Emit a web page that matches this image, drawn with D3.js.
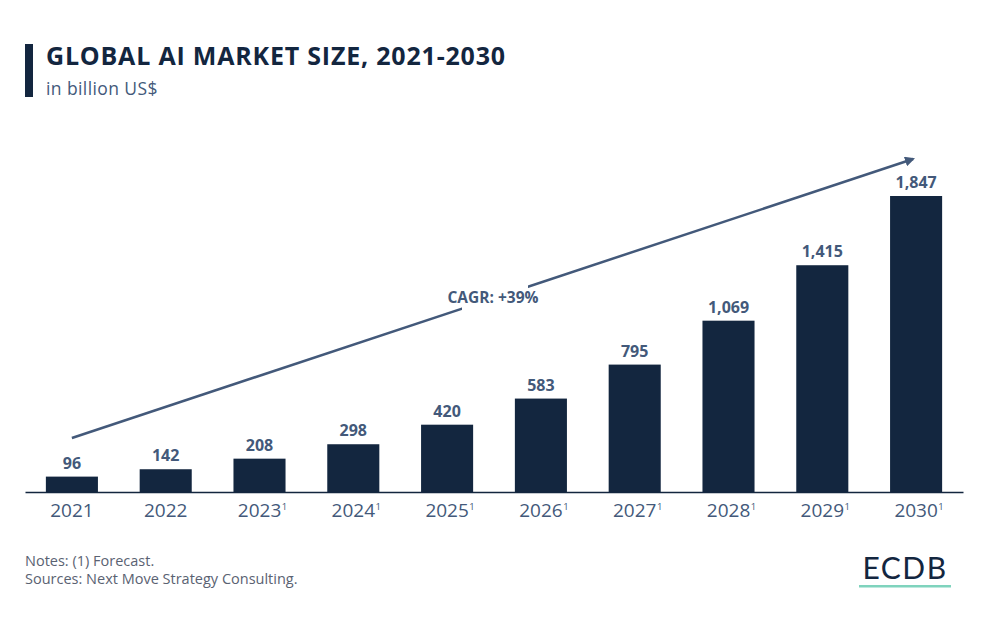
<!DOCTYPE html>
<html><head><meta charset="utf-8">
<script src="https://cdn.jsdelivr.net/npm/d3@7"></script>
<style>body{margin:0;background:#fff;}svg{display:block;font-family:"Open Sans",sans-serif;}</style>
</head><body>
<svg id="c" width="988" height="624"></svg>
<script>
const years = ["2021","2022","2023","2024","2025","2026","2027","2028","2029","2030"];
const forecast = [false,false,true,true,true,true,true,true,true,true];
const values = [96,142,208,298,420,583,795,1069,1415,1847];
const valueLabels = ["96","142","208","298","420","583","795","1,069","1,415","1,847"];

const svg = d3.select("#c");
const dark = "#13263f", mid = "#43597a";

// title
svg.append("rect").attr("x",25).attr("y",44).attr("width",8).attr("height",53).attr("fill",dark);
svg.append("text").attr("x",46).attr("y",65).attr("font-size",25).attr("letter-spacing",0.8).attr("font-weight",700).attr("fill",dark).text("GLOBAL AI MARKET SIZE, 2021-2030");
svg.append("text").attr("x",46).attr("y",95).attr("font-size",17.5).attr("letter-spacing",0.4).attr("fill",mid).text("in billion US$");

const x = d3.scaleBand().domain(years).range([25,963]).paddingInner(0.445).paddingOuter(0.2225);
const y = d3.scaleLinear().domain([0,1847]).range([492,196]);

svg.selectAll("rect.bar").data(values).join("rect").attr("class","bar")
  .attr("x",(d,i)=>x(years[i])).attr("width",x.bandwidth())
  .attr("y",d=>y(d)).attr("height",d=>y(0)-y(d)).attr("fill",dark);

svg.selectAll("text.val").data(values).join("text").attr("class","val")
  .attr("x",(d,i)=>x(years[i])+x.bandwidth()/2).attr("y",d=>y(d)-8)
  .attr("text-anchor","middle").attr("font-size",16).attr("font-weight",700).attr("fill",mid)
  .text((d,i)=>valueLabels[i]);

// axis
const ax = svg.append("g").attr("transform","translate(0,492)").call(d3.axisBottom(x).tickSize(0).tickPadding(0).tickFormat(""));
ax.select(".domain").attr("stroke",dark).attr("stroke-width",1.5);
const tl = svg.selectAll("text.yr").data(years).join("text").attr("class","yr")
  .attr("x",(d,i)=>x(d)+x.bandwidth()/2 + (forecast[i]?3:0)).attr("y",517)
  .attr("text-anchor","middle").attr("font-size",19).attr("fill",mid);
tl.append("tspan").text(d=>d);
tl.filter((d,i)=>forecast[i]).append("tspan").attr("font-size",9.5).attr("dx",0.5).attr("dy",-7.5).text("1");

// CAGR arrow
const x0 = x(years[0])+x.bandwidth()/2, x1 = x(years[9])+x.bandwidth()/2;
const ay0 = 438, ay1 = 158;
const defs = svg.append("defs");
defs.append("marker").attr("id","ah").attr("viewBox","0 0 10 10").attr("refX",8).attr("refY",5)
  .attr("markerWidth",4).attr("markerHeight",4).attr("orient","auto")
  .append("path").attr("d","M0,0L10,5L0,10z").attr("fill",mid);
svg.append("line").attr("x1",x0).attr("y1",ay0).attr("x2",x1-3).attr("y2",ay1+1)
  .attr("stroke",mid).attr("stroke-width",2.5).attr("marker-end","url(#ah)");
svg.append("rect").attr("x",462).attr("y",284).attr("width",66).attr("height",28).attr("fill","#fff");
svg.append("text").attr("x",493).attr("y",303).attr("text-anchor","middle").attr("font-size",15.5).attr("font-weight",700).attr("fill",mid).text("CAGR: +39%");

// notes
svg.append("text").attr("x",25).attr("y",566).attr("font-size",14.5).attr("fill","#5a6272").text("Notes: (1) Forecast.");
svg.append("text").attr("x",25).attr("y",584).attr("font-size",14.5).attr("fill","#5a6272").text("Sources: Next Move Strategy Consulting.");

// logo
svg.append("text").attr("x",905).attr("y",579).attr("text-anchor","middle").attr("font-size",30).attr("font-weight",400)
  .attr("font-family","Lato, 'Open Sans', sans-serif").attr("letter-spacing",1.5).attr("fill",dark).text("ECDB");
svg.append("rect").attr("x",859).attr("y",585).attr("width",92).attr("height",2.5).attr("fill","#7fd3bd");
</script>
</body></html>
